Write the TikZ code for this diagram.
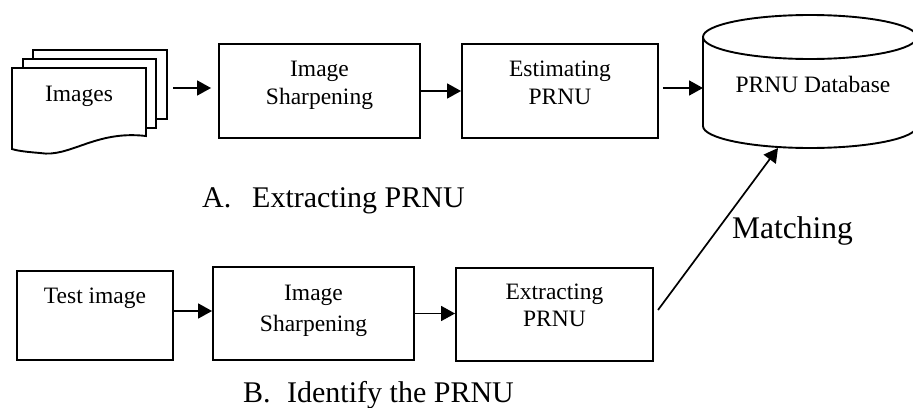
\documentclass[tikz,border=0pt]{standalone}
\usepackage{fontspec}
\setmainfont{Liberation Serif}
\usetikzlibrary{arrows.meta,calc}
\begin{document}
\begin{tikzpicture}[x=1pt,y=-1pt,
  box/.style={draw, line width=1.9pt, inner sep=0pt},
  sheet/.style={draw, line width=1.9pt, fill=white},
  txt/.style={inner sep=0pt, anchor=base, font=\fontsize{23.5}{28}\selectfont},
  captxt/.style={inner sep=0pt, anchor=base west, font=\fontsize{30}{36}\selectfont},
  arr/.style={line width=1.7pt, -{Triangle[length=14pt,width=15pt]}}]
\useasboundingbox (0,0) rectangle (913,407);

% stacked image sheets
\draw[sheet] (33,50) rectangle (167,119);
\draw[sheet] (23,59) rectangle (156,128);
\draw[sheet] (12,68) -- (146,68) -- (146,136)
  .. controls (95,130) and (70,158) .. (40,153)
  .. controls (28,152) and (18,151) .. (12,149) -- cycle;
\node[txt] (imgs) at (79,101) {Images};
\coordinate (imgout) at (173,88);

% top row boxes
\node[box, minimum width=201pt, minimum height=94pt] (is1) at (319.5,91) {};
\node[txt] (is1a) at ([yshift=-33pt]is1.north) {Image};
\node[txt] (is1b) at ([yshift=-61pt]is1.north) {Sharpening};

\node[box, minimum width=196pt, minimum height=94pt] (ep1) at (560,91) {};
\node[txt] (ep1a) at ([yshift=-33pt]ep1.north) {Estimating};
\node[txt] (ep1b) at ([yshift=-61pt]ep1.north) {PRNU};

% database cylinder, running past the right edge
\begin{scope}
\clip (0,0) rectangle (913,407);
\draw[line width=1.9pt, fill=white] (703,37) -- (703,126)
  .. controls (703,138.15) and (750.9,148) .. (810,148)
  .. controls (869.1,148) and (917,138.15) .. (917,126) -- (917,37);
\draw[line width=1.9pt] (703,37)
  .. controls (703,24.85) and (750.9,15) .. (810,15)
  .. controls (869.1,15) and (917,24.85) .. (917,37)
  .. controls (917,49.15) and (869.1,59) .. (810,59)
  .. controls (750.9,59) and (703,49.15) .. (703,37);
\end{scope}
\node[txt] (db) at (813,92) {PRNU Database};
\coordinate (dbin) at (703,88);
\coordinate (dbbot) at (778,148);

% bottom row boxes
\node[box, minimum width=156pt, minimum height=89pt] (ti) at (95,315.5) {};
\node[txt] (tia) at ([yshift=-33pt]ti.north) {Test image};

\node[box, minimum width=201pt, minimum height=93pt] (is2) at (313.5,313.5) {};
\node[txt] (is2a) at ([yshift=-34pt]is2.north) {Image};
\node[txt] (is2b) at ([yshift=-65pt]is2.north) {Sharpening};

\node[box, minimum width=197pt, minimum height=93pt] (ex2) at (554.5,314.5) {};
\node[txt] (ex2a) at ([yshift=-32pt]ex2.north) {Extracting};
\node[txt] (ex2b) at ([yshift=-59pt]ex2.north) {PRNU};
\coordinate (mstart) at (658,310);

% connectors
\draw[arr, shorten >=7pt] (imgout) -- (imgout -| is1.west);
\draw[arr] (is1) -- (ep1);
\draw[arr] ($(ep1.east |- dbin)+(4,0)$) -- (dbin);
\draw[arr] ([yshift=4.5pt]ti.east) -- ([yshift=4.5pt]ti.east -| is2.west);
\draw[arr] (is2.east) -- (is2.east -| ex2.west);
\draw[arr] (mstart) -- (dbbot);

% captions
\node[captxt] (capa) at (202,207) {\makebox[50pt][l]{A.}Extracting PRNU};
\node[captxt] (capb) at (243,402) {\makebox[44pt][l]{B.}Identify the PRNU};
\node[captxt, font=\fontsize{31.5}{36}\selectfont] (match) at (732,238) {Matching};
\end{tikzpicture}
\end{document}
